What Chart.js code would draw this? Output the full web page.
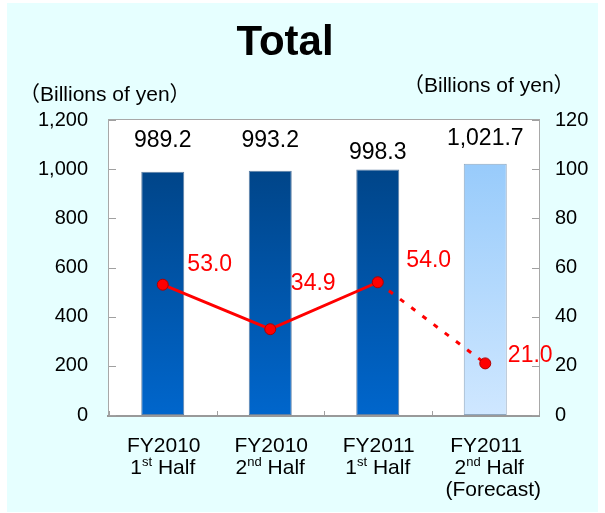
<!DOCTYPE html>
<html>
<head>
<meta charset="utf-8">
<script src="https://cdn.jsdelivr.net/npm/chart.js@4/dist/chart.umd.min.js"></script>
<style>
  html, body { margin: 0; padding: 0; background: #ffffff; }
  #c { display: block; }
</style>
</head>
<body>
<canvas id="c" width="605" height="513"></canvas>
<script>
// ---- Data ----
const categories = ['FY2010 1st Half', 'FY2010 2nd Half', 'FY2011 1st Half', 'FY2011 2nd Half (Forecast)'];
const yearLabels = ['FY2010', 'FY2010', 'FY2011', 'FY2011'];
const halfNumbers = ['1', '2', '1', '2'];
const halfSuffixes = ['st', 'nd', 'st', 'nd'];
const noteLabels = ['', '', '', '(Forecast)'];
const isForecast = [false, false, false, true];
const netSales = [989.2, 993.2, 998.3, 1021.7];
const netSalesText = ['989.2', '993.2', '998.3', '1,021.7'];
const operatingIncome = [53.0, 34.9, 54.0, 21.0];
const operatingIncomeText = ['53.0', '34.9', '54.0', '21.0'];
const titleText = 'Total';
const leftUnitText = '（Billions of yen）';
const rightUnitText = '（Billions of yen）';

// ---- Styles (label offsets in px) ----
const barLabelOffsets = [-31, -30, -17, -25];
const lineLabelOffsets = [[47, -20], [43, -46], [51, -22], [45, -8]];
const FONT = '"Liberation Sans", Arial, "Noto Sans CJK JP", sans-serif';

function barGradient(ctx) {
  const chart = ctx.chart;
  if (!chart.chartArea || ctx.raw === undefined) return '#0060C0';
  const ys = chart.scales.y;
  const top = ys.getPixelForValue(ctx.raw);
  const bot = ys.getPixelForValue(0);
  const g = chart.ctx.createLinearGradient(0, top, 0, bot);
  if (isForecast[ctx.dataIndex]) {
    g.addColorStop(0, '#98CBFB');
    g.addColorStop(1, '#CFE7FF');
  } else {
    g.addColorStop(0, '#004589');
    g.addColorStop(1, '#0066CC');
  }
  return g;
}

const decorPlugin = {
  id: 'decor',
  beforeDraw(chart) {
    const c = chart.ctx;
    const a = chart.chartArea;
    c.save();
    c.fillStyle = '#ffffff';
    c.fillRect(0, 0, chart.width, chart.height);
    c.fillStyle = '#E6FFFF';
    c.fillRect(7, 3, 591, 509);
    c.fillStyle = '#ffffff';
    c.fillRect(a.left, a.top, a.right - a.left, a.bottom - a.top);
    c.restore();
  },
  afterDatasetsDraw(chart) {
    const c = chart.ctx;
    const a = chart.chartArea;
    const ys = chart.scales.y, y1 = chart.scales.y1, xs = chart.scales.x;
    c.save();
    c.strokeStyle = '#A8A8A8';
    c.lineWidth = 1;
    c.strokeRect(Math.round(a.left) - 0.5, Math.round(a.top) - 0.5, Math.round(a.right - a.left) + 1, Math.round(a.bottom - a.top) + 1);
    c.strokeStyle = '#999999';
    c.lineWidth = 2;
    c.beginPath();
    c.moveTo(a.left - 2, Math.round(a.bottom) + 1);
    c.lineTo(a.right + 1, Math.round(a.bottom) + 1);
    c.stroke();
    c.lineWidth = 1;
    c.strokeStyle = '#A0A0A0';
    ys.ticks.forEach(t => {
      const py = Math.round(ys.getPixelForValue(t.value)) + 0.5;
      c.beginPath(); c.moveTo(a.left, py); c.lineTo(a.left + 7, py); c.stroke();
    });
    y1.ticks.forEach(t => {
      const py = Math.round(y1.getPixelForValue(t.value)) + 0.5;
      c.beginPath(); c.moveTo(a.right, py); c.lineTo(a.right - 7, py); c.stroke();
    });
    const n = categories.length;
    for (let i = 0; i <= n; i++) {
      const px = Math.round(xs.getPixelForValue(i - 0.5)) + 0.5;
      c.beginPath(); c.moveTo(px, a.bottom); c.lineTo(px, a.bottom - 4); c.stroke();
    }
    c.restore();
  },
  afterDraw(chart) {
    const c = chart.ctx;
    const ys = chart.scales.y, y1 = chart.scales.y1, xs = chart.scales.x;
    c.save();
    c.fillStyle = '#000000';
    c.font = 'bold 42px ' + FONT;
    c.textAlign = 'center';
    c.textBaseline = 'alphabetic';
    c.fillText(titleText, 285, 55);
    c.font = '21px ' + FONT;
    c.textAlign = 'left';
    c.fillText(leftUnitText, 19, 101);
    c.fillText(rightUnitText, 403, 92);
    c.font = '23px ' + FONT;
    c.textAlign = 'center';
    c.textBaseline = 'middle';
    netSales.forEach((v, i) => {
      const px = xs.getPixelForValue(i);
      const py = ys.getPixelForValue(v) + barLabelOffsets[i];
      c.fillText(netSalesText[i], px, py);
    });
    c.fillStyle = '#FF0000';
    operatingIncome.forEach((v, i) => {
      const px = xs.getPixelForValue(i) + lineLabelOffsets[i][0];
      const py = y1.getPixelForValue(v) + lineLabelOffsets[i][1];
      c.fillText(operatingIncomeText[i], px, py);
    });
    c.fillStyle = '#000000';
    c.textBaseline = 'alphabetic';
    const big = 21, small = 13;
    categories.forEach((_, i) => {
      const cx = xs.getPixelForValue(i) + (i === 3 ? 4 : 0);
      c.font = big + 'px ' + FONT;
      c.textAlign = 'center';
      c.fillText(yearLabels[i], xs.getPixelForValue(i) + 1, 452);
      const numW = c.measureText(halfNumbers[i]).width;
      const restW = c.measureText(' Half').width;
      c.font = small + 'px ' + FONT;
      const supW = c.measureText(halfSuffixes[i]).width;
      const total = numW + supW + restW;
      const x0 = cx - total / 2;
      c.textAlign = 'left';
      c.font = big + 'px ' + FONT;
      c.fillText(halfNumbers[i], x0, 474);
      c.font = small + 'px ' + FONT;
      c.fillText(halfSuffixes[i], x0 + numW, 466);
      c.font = big + 'px ' + FONT;
      c.fillText(' Half', x0 + numW + supW, 474);
      if (noteLabels[i]) {
        c.textAlign = 'center';
        c.fillText(noteLabels[i], cx + 4, 496);
      }
    });
    c.restore();
  }
};

new Chart(document.getElementById('c'), {
  data: {
    labels: categories,
    datasets: [
      {
        type: 'line',
        label: 'Operating income',
        data: operatingIncome,
        yAxisID: 'y1',
        order: 0,
        borderColor: '#FF0000',
        borderWidth: 3,
        tension: 0,
        pointRadius: 5.5,
        pointBackgroundColor: '#FF0000',
        pointBorderColor: '#B00000',
        pointBorderWidth: 1,
        segment: {
          borderDash: ctx => (isForecast[ctx.p1DataIndex] ? [5, 9] : undefined)
        }
      },
      {
        type: 'bar',
        label: 'Net sales',
        data: netSales,
        yAxisID: 'y',
        order: 1,
        backgroundColor: barGradient,
        borderColor: ctx => (isForecast[ctx.dataIndex] ? '#8FA7BF' : '#5F7FA3'),
        borderWidth: 1,
        borderSkipped: false,
        barPercentage: 0.4,
        categoryPercentage: 1.0
      }
    ]
  },
  options: {
    responsive: false,
    animation: false,
    devicePixelRatio: 1,
    layout: { padding: { left: 0, right: 0, top: 120, bottom: 0 } },
    plugins: { legend: { display: false }, tooltip: { enabled: false }, title: { display: false } },
    scales: {
      x: {
        offset: true,
        grid: { display: false, drawTicks: false },
        border: { display: false },
        ticks: { display: false },
        afterFit(s) { s.height = 98; }
      },
      y: {
        position: 'left',
        min: 0, max: 1200,
        grid: { display: false, drawTicks: false },
        border: { display: false },
        ticks: { stepSize: 200, padding: 21, color: '#000000', font: { family: FONT, size: 20 } },
        afterFit(s) { s.width = 109; }
      },
      y1: {
        position: 'right',
        min: 0, max: 120,
        grid: { display: false, drawTicks: false },
        border: { display: false },
        ticks: { stepSize: 20, padding: 16, color: '#000000', font: { family: FONT, size: 20 } },
        afterFit(s) { s.width = 66; }
      }
    }
  },
  plugins: [decorPlugin]
});
</script>
</body>
</html>
